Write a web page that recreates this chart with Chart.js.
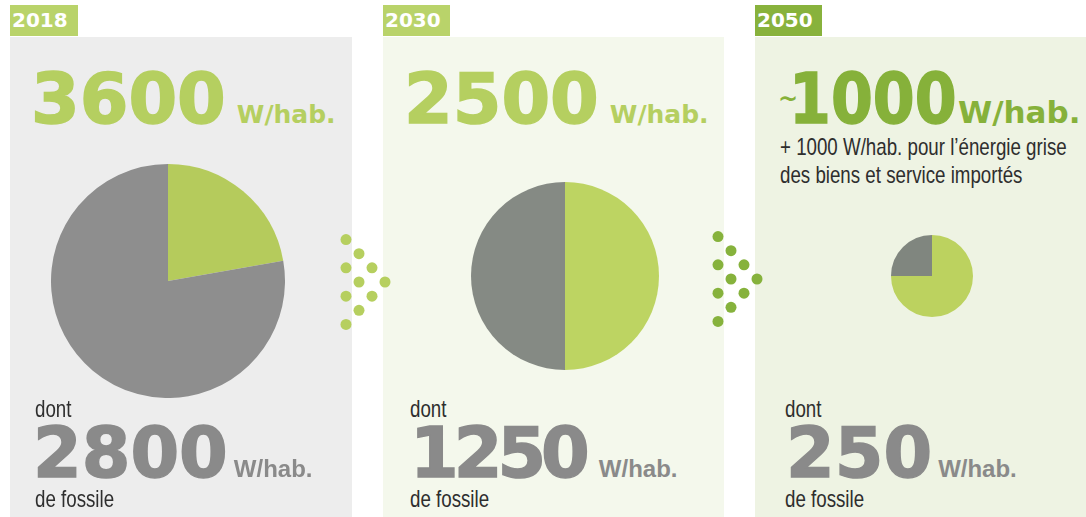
<!DOCTYPE html>
<html>
<head>
<meta charset="utf-8">
<script src="https://cdn.jsdelivr.net/npm/chart.js@4"></script>
<style>
  body { margin: 0; width: 1086px; height: 517px; background: #fff; position: relative; overflow: hidden; }
  .panel { position: absolute; top: 37px; height: 480px; }
  .tab { position: absolute; top: 5px; height: 31px; color: #fff; font: bold 20px "DejaVu Sans"; line-height: 31px; padding-left: 2px; box-sizing: border-box; }
  .row { position: absolute; display: flex; align-items: baseline; white-space: nowrap; }
  .big { font: bold 70px "DejaVu Sans"; line-height: 52px; -webkit-text-stroke: 1.5px currentColor; }
  .unit { font: bold 25px "DejaVu Sans"; line-height: 25px; }
  .unitb { font: bold 24px "Liberation Sans"; line-height: 24px; }
  .small { position: absolute; font: 24px "Liberation Sans"; line-height: 24px; color: #2e2e2e; white-space: nowrap; transform: scaleX(0.78); transform-origin: 0 0; }
  canvas { position: absolute; }
</style>
</head>
<body>
<div class="panel" style="left:10px;width:342px;background:#ededed"></div>
<div class="panel" style="left:383px;width:341px;background:#f4f8ec"></div>
<div class="panel" style="left:755px;width:331px;background:#eef3e3"></div>

<div class="tab" style="left:10px;width:68px;background:#b9d36a" id="t0"></div>
<div class="tab" style="left:383px;width:67px;background:#b9d36a" id="t1"></div>
<div class="tab" style="left:755px;width:67px;background:#88b23c" id="t2"></div>

<!-- totaux -->
<div class="row" style="left:31px;top:73px;color:#b5cf60"><span class="big" id="tot0"></span><span class="unit" style="margin-left:11px">W/hab.</span></div>
<div class="row" style="left:404px;top:73px;color:#b5cf60"><span class="big" id="tot1"></span><span class="unit" style="margin-left:11px">W/hab.</span></div>
<div class="row" style="left:778px;top:73px;color:#86b13a"><span style="font:bold 24px 'DejaVu Sans';line-height:24px;position:relative;top:-16px">~</span><span class="big" id="tot2" style="margin-left:-9px;transform:scaleX(0.86);transform-origin:0 0"></span><span class="unit" style="font-size:31px;line-height:31px;margin-left:-26px">W/hab.</span></div>

<div class="small" style="left:780px;top:133px;line-height:28px">+ 1000 W/hab. pour l’énergie grise<br>des biens et service importés</div>

<!-- camemberts -->
<canvas id="pie0" width="234" height="234" style="left:51px;top:164px"></canvas>
<canvas id="pie1" width="188" height="188" style="left:471px;top:182px"></canvas>
<canvas id="pie2" width="82" height="82" style="left:891px;top:235px"></canvas>

<!-- flèches -->
<canvas id="arr0" width="63" height="110" style="left:334px;top:227px"></canvas>
<canvas id="arr1" width="63" height="110" style="left:706px;top:224px"></canvas>

<!-- part fossile -->
<div class="small" style="left:35px;top:397px">dont</div>
<div class="row" style="left:33px;top:427px;color:#8a8a8a"><span class="big" id="fos0"></span><span class="unitb" style="margin-left:6px">W/hab.</span></div>
<div class="small" style="left:35px;top:487px">de fossile</div>

<div class="small" style="left:410px;top:397px">dont</div>
<div class="row" style="left:410px;top:427px;color:#8a8a8a"><span class="big" id="fos1" style="letter-spacing:-5px"></span><span class="unitb" style="margin-left:14px">W/hab.</span></div>
<div class="small" style="left:410px;top:487px">de fossile</div>

<div class="small" style="left:785px;top:397px">dont</div>
<div class="row" style="left:786px;top:427px;color:#8a8a8a"><span class="big" id="fos2"></span><span class="unitb" style="margin-left:6px">W/hab.</span></div>
<div class="small" style="left:785px;top:487px">de fossile</div>

<script>
// données (W/hab.)
const annees = ['2018', '2030', '2050'];
const totaux = [3600, 2500, 1000];
const fossile = [2800, 1250, 250];
const nonFossile = [800, 1250, 750];

const vert = ['#b5cb5c', '#bdd462', '#bcd25f'];
const gris = ['#8e8e8e', '#858a84', '#80867f'];

// points des flèches (colonne, ligne)
const flecheCol = [0, 1, 0, 2, 1, 3, 0, 2, 1, 0];
const flecheLigne = [0, 1, 2, 2, 3, 3, 4, 4, 5, 6];
const flecheCouleur = ['#b6cf5f', '#86b23c'];

for (let i = 0; i < annees.length; i++) {
    document.getElementById('t' + i).textContent = annees[i];
    document.getElementById('tot' + i).textContent = totaux[i];
    document.getElementById('fos' + i).textContent = fossile[i];

    new Chart(document.getElementById('pie' + i), {
        type: 'pie',
        data: {
            labels: ['non fossile', 'fossile'],
            datasets: [{
                data: [nonFossile[i], fossile[i]],
                backgroundColor: [vert[i], gris[i]],
                borderWidth: 0,
            }]
        },
        options: {
            responsive: false,
            animation: false,
            layout: { padding: 0 },
            plugins: { legend: { display: false }, tooltip: { enabled: false } },
        }
    });
}

for (let j = 0; j < 2; j++) {
    new Chart(document.getElementById('arr' + j), {
        type: 'scatter',
        data: {
            datasets: [{
                data: flecheCol.map((c, k) => ({ x: c, y: flecheLigne[k] })),
                backgroundColor: flecheCouleur[j],
                borderWidth: 0,
                pointRadius: 5.5,
            }]
        },
        options: {
            responsive: false,
            animation: false,
            layout: { padding: 0 },
            plugins: { legend: { display: false }, tooltip: { enabled: false } },
            scales: {
                x: { display: false, min: -0.5, max: 3.5 },
                y: { display: false, min: -0.5, max: 6.5, reverse: true },
            }
        }
    });
}
</script>
</body>
</html>
